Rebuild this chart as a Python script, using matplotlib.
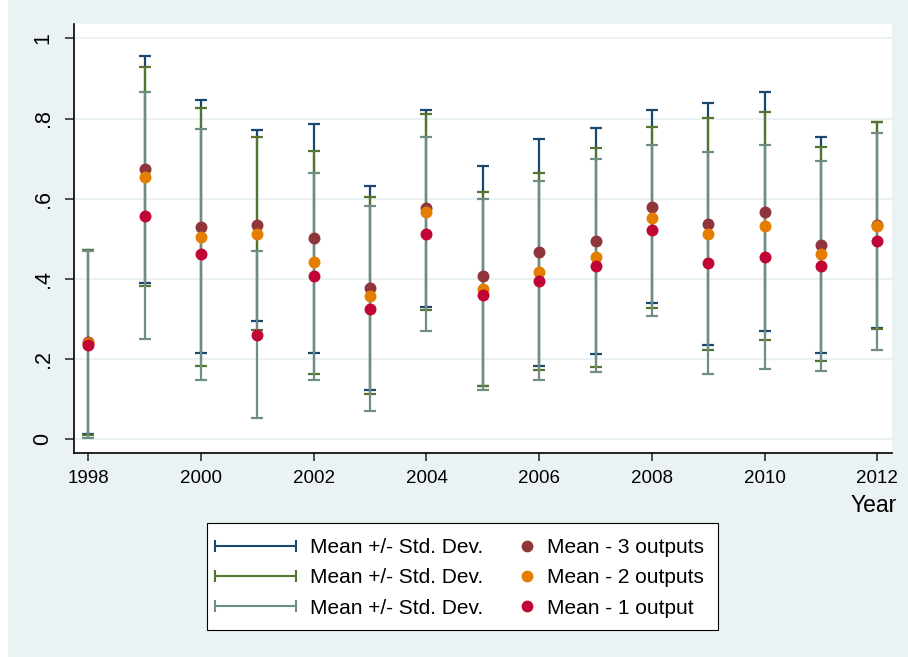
import matplotlib
matplotlib.use("Agg")
import matplotlib.pyplot as plt
from matplotlib.lines import Line2D
from matplotlib.legend_handler import HandlerLine2D
from matplotlib.patches import Rectangle
import numpy as np

plt.rcParams['font.family'] = ['Liberation Sans', 'DejaVu Sans']

years = np.arange(1998, 2013)

# mean and standard deviation per year, by number of outputs
mean3 = [0.242, 0.673, 0.530, 0.534, 0.501, 0.377, 0.576, 0.408, 0.466, 0.494, 0.580, 0.537, 0.568, 0.484, 0.535]
sd3 = [0.230, 0.284, 0.316, 0.238, 0.285, 0.254, 0.246, 0.274, 0.284, 0.282, 0.240, 0.302, 0.299, 0.269, 0.257]
mean2 = [0.241, 0.655, 0.505, 0.513, 0.441, 0.358, 0.567, 0.374, 0.418, 0.454, 0.553, 0.512, 0.532, 0.462, 0.533]
sd2 = [0.231, 0.273, 0.321, 0.240, 0.277, 0.246, 0.244, 0.242, 0.245, 0.273, 0.226, 0.289, 0.285, 0.268, 0.258]
mean1 = [0.236, 0.558, 0.462, 0.261, 0.406, 0.326, 0.512, 0.361, 0.395, 0.433, 0.521, 0.440, 0.455, 0.432, 0.494]
sd1 = [0.233, 0.309, 0.313, 0.208, 0.257, 0.256, 0.241, 0.239, 0.248, 0.266, 0.213, 0.276, 0.279, 0.261, 0.271]

xticks = list(range(1998, 2013, 2))
yticks = [0, 0.2, 0.4, 0.6, 0.8, 1.0]
ylabels = ["0", ".2", ".4", ".6", ".8", "1"]

bar_labels = ["Mean +/- Std. Dev."] * 3
dot_labels = ["Mean - 3 outputs", "Mean - 2 outputs", "Mean - 1 output"]

# stata s2color palette
navy = "#1a476f"
green = "#55752f"
teal = "#6e8e84"
maroon = "#90353b"
orange = "#e37e00"
cranberry = "#c10534"
bg = "#eaf2f3"

W, H = 908, 657
fig = plt.figure(figsize=(W / 100, H / 100), dpi=100, facecolor=bg)
fig.add_artist(Rectangle((0, 0), 7 / W, 1, transform=fig.transFigure, color="white", zorder=-5))

ax = fig.add_axes([73.7 / W, 1 - 453 / H, 818 / W, 429 / H])
ax.set_facecolor("white")

for m, s, c in [(mean3, sd3, navy), (mean2, sd2, green), (mean1, sd1, teal)]:
    ax.errorbar(years, m, yerr=s, fmt="none", ecolor=c, elinewidth=1.6,
                capsize=4, capthick=1.6, zorder=3)

for m, c in [(mean3, maroon), (mean2, orange), (mean1, cranberry)]:
    ax.plot(years, m, "o", color=c, ms=8.6, mec="none", zorder=4)

ax.set_xlim(1997.741, 2012.254)
ax.set_ylim(-0.0342, 1.0357)
ax.set_xticks(xticks)
ax.set_xticklabels([str(y) for y in xticks], fontsize=13.5)
ax.set_yticks(yticks)
ax.set_yticklabels(ylabels, fontsize=15.5, rotation=90, va="center")
ax.tick_params(axis="y", length=6.5, width=1.2, pad=8, color="#333333")
ax.tick_params(axis="x", length=6, width=1.2, pad=6.5, color="#333333")
ax.grid(axis="y", color=bg, linewidth=1.5, zorder=0)
ax.set_axisbelow(True)
for side in ["top", "right"]:
    ax.spines[side].set_visible(False)
for side in ["left", "bottom"]:
    ax.spines[side].set_linewidth(1.2)

ax.set_xlabel("Year", fontsize=16.5, ha="right", va="center")
ax.xaxis.set_label_coords((896.7 - 73.7) / 818, -(505 - 453) / 429)


class DotRight(HandlerLine2D):
    # put the single marker at the right end of the handle box
    def get_xdata(self, legend, xdescent, ydescent, width, height, fontsize):
        xd = [-xdescent, -xdescent + width]
        return xd, [-xdescent + width - 0.3 * fontsize]


bar_handles = [Line2D([], [], color=c, lw=1.5, marker="|", ms=9, mew=1.5)
               for c in [navy, green, teal]]
dot_handles = [Line2D([], [], ls="none", marker="o", color=c, ms=8.5, mec="none")
               for c in [maroon, orange, cranberry]]

fs = 15
common = dict(frameon=False, fontsize=fs, borderpad=0, borderaxespad=0,
              labelspacing=0.54, loc="upper left")
leg1 = fig.legend(bar_handles, bar_labels, handlelength=3.9, handletextpad=0.67,
                  handler_map={h: HandlerLine2D(numpoints=2, marker_pad=0) for h in bar_handles},
                  bbox_to_anchor=(215 / W, 1 - 538 / H), **common)
leg2 = fig.legend(dot_handles, dot_labels, handlelength=1.0, handletextpad=0.45,
                  handler_map={h: DotRight(numpoints=1) for h in dot_handles},
                  bbox_to_anchor=(517 / W, 1 - 538 / H), **common)
fig.add_artist(Rectangle((207.3 / W, 1 - 630 / H), (718.3 - 207.3) / W, (630 - 523.3) / H,
                         transform=fig.transFigure, facecolor="white", edgecolor="black",
                         linewidth=0.8, zorder=-1))

fig.savefig("out.png", dpi=100, facecolor=bg)
